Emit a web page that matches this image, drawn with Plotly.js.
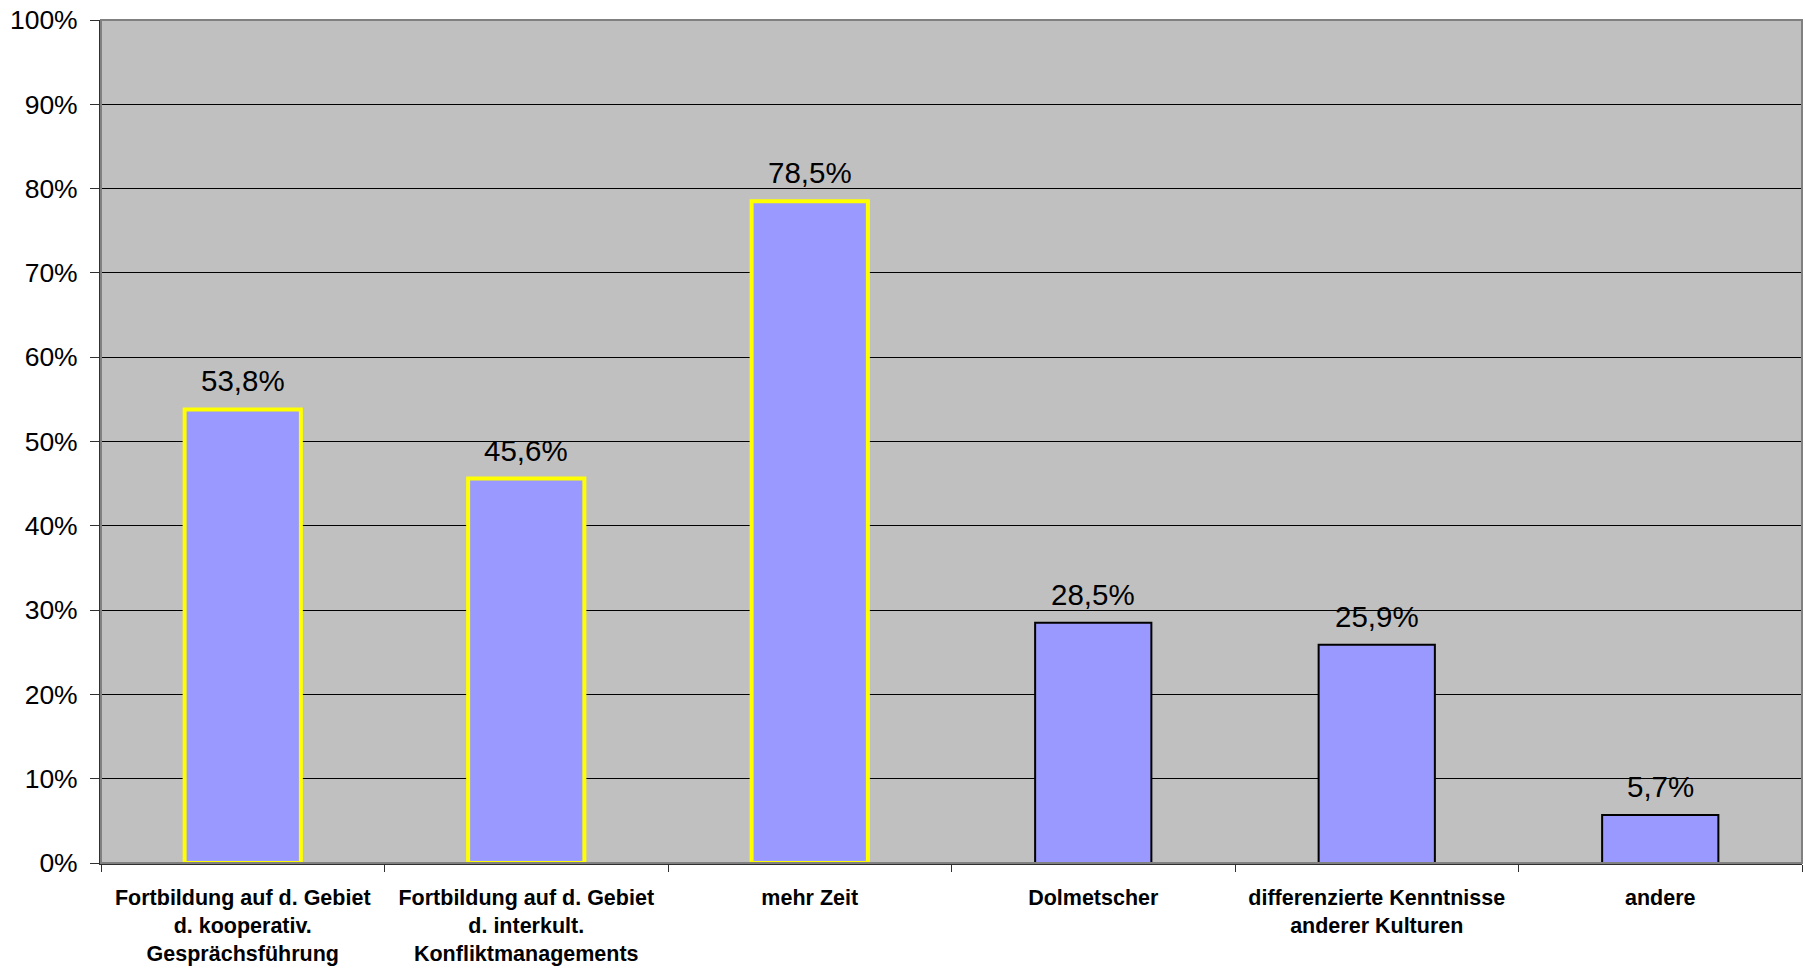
<!DOCTYPE html>
<html>
<head>
<meta charset="utf-8">
<script src="https://cdn.plot.ly/plotly-3.0.1.min.js"></script>
<style>
  html, body { margin: 0; padding: 0; background: #ffffff; }
  #chart { width: 1805px; height: 971px; }
</style>
</head>
<body>
<div id="chart"></div>
<script>
const categories = [
  "Fortbildung auf d. Gebiet<br>d. kooperativ.<br>Gesprächsführung",
  "Fortbildung auf d. Gebiet<br>d. interkult.<br>Konfliktmanagements",
  "mehr Zeit",
  "Dolmetscher",
  "differenzierte Kenntnisse<br>anderer Kulturen",
  "andere"
];
const values = [53.8, 45.6, 78.5, 28.5, 25.9, 5.7];
const valueLabels = ["53,8%", "45,6%", "78,5%", "28,5%", "25,9%", "5,7%"];
const outlineColors = ["#FFFF00", "#FFFF00", "#FFFF00", "#000000", "#000000", "#000000"];
const outlineWidths = [4, 4, 4, 2, 2, 2];
const yTickVals = [0, 10, 20, 30, 40, 50, 60, 70, 80, 90, 100];

const FONT = "Liberation Sans, Arial, sans-serif";

const trace = {
  type: "bar",
  x: categories,
  y: values,
  marker: {
    color: "#9999FF",
    line: { color: outlineColors, width: outlineWidths }
  },
  hoverinfo: "none"
};

const annotations = categories.map((c, i) => ({
  x: c,
  y: values[i],
  xref: "x",
  yref: "y",
  text: valueLabels[i],
  showarrow: false,
  yanchor: "bottom",
  yshift: 10,
  font: { family: FONT, size: 29.5, color: "#000000" }
}));

const layout = {
  width: 1805,
  height: 971,
  margin: { l: 101, r: 3, t: 20, b: 108 },
  paper_bgcolor: "#ffffff",
  plot_bgcolor: "#C0C0C0",
  showlegend: false,
  bargap: 0.59,
  xaxis: {
    type: "category",
    showgrid: false,
    showline: true,
    linecolor: "#303030",
    linewidth: 2,
    ticks: "outside",
    tickson: "boundaries",
    ticklen: 7,
    tickcolor: "#303030",
    tickwidth: 1,
    ticklabelstandoff: 14,
    tickfont: { family: FONT, size: 21.5, color: "#000000", weight: "bold" },
    fixedrange: true
  },
  yaxis: {
    range: [0, 100],
    tickvals: yTickVals,
    ticktext: yTickVals.map(v => v + "%"),
    showgrid: true,
    gridcolor: "#000000",
    gridwidth: 1,
    zeroline: false,
    showline: true,
    linecolor: "#303030",
    linewidth: 2,
    ticks: "outside",
    ticklen: 9,
    tickcolor: "#303030",
    tickwidth: 1,
    ticklabelstandoff: 7,
    tickfont: { family: FONT, size: 26.5, color: "#000000" },
    fixedrange: true
  },
  shapes: [
    {
      type: "rect", xref: "paper", yref: "paper",
      x0: 0, x1: 1, y0: 0, y1: 1,
      line: { color: "#808080", width: 2 },
      fillcolor: "rgba(0,0,0,0)",
      layer: "above"
    }
  ],
  annotations: annotations
};

Plotly.newPlot("chart", [trace], layout, { displayModeBar: false, staticPlot: true });
</script>
</body>
</html>
